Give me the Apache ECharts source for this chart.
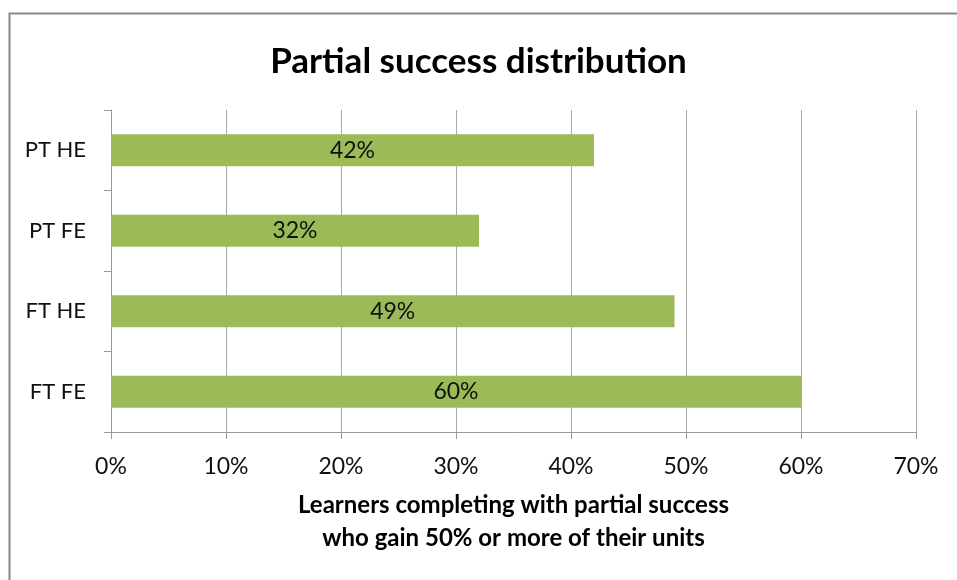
<!DOCTYPE html>
<html><head><meta charset="utf-8">
<script src="https://cdn.jsdelivr.net/npm/echarts@6/dist/echarts.min.js"></script>
<style>html,body{margin:0;padding:0;background:#fff}#c{width:957px;height:580px}</style>
</head><body><div id="c"></div>
<script>
var categories = ['FT FE', 'FT HE', 'PT FE', 'PT HE'];
var values = [60, 49, 32, 42];
var xTicks = [0, 10, 20, 30, 40, 50, 60, 70];
var title = 'Partial success distribution';
var xName = 'Learners completing with partial success\nwho gain 50% or more of their units';

var font = 'Lato, "Open Sans", sans-serif';
var chart = echarts.init(document.getElementById('c'));
chart.setOption({
  animation: false,
  graphic: [{type: 'rect', left: 7, top: 11, shape: {width: 1000, height: 700}, style: {fill: 'none', stroke: '#888', lineWidth: 2}, z: -1}],
  title: {text: title, left: 'center', top: 39, textStyle: {fontFamily: font, fontSize: 35, fontWeight: 'bold', color: '#000'}},
  grid: {left: 111, right: 41, top: 110, bottom: 148},
  xAxis: {
    type: 'value', min: xTicks[0], max: xTicks[xTicks.length - 1], interval: 10,
    name: xName, nameLocation: 'middle', nameGap: 57,
    nameTextStyle: {fontFamily: font, fontSize: 24, fontWeight: 'bold', color: '#000', lineHeight: 33},
    axisLine: {show: true, lineStyle: {color: '#999', width: 1}},
    axisTick: {show: true, length: 7, lineStyle: {color: '#999'}},
    axisLabel: {formatter: '{value}%', fontFamily: font, fontSize: 23, color: '#111', margin: 23},
    splitLine: {show: true, lineStyle: {color: '#aaa', width: 1}}
  },
  yAxis: {
    type: 'category', data: categories,
    axisLine: {show: true, lineStyle: {color: '#999'}},
    axisTick: {show: true, length: 7, lineStyle: {color: '#999'}},
    axisLabel: {fontFamily: font, fontSize: 22, color: '#111', margin: 25}
  },
  series: [{
    type: 'bar', data: values, barCategoryGap: '60%',
    itemStyle: {color: '#9BBB59'},
    label: {show: true, position: 'inside', formatter: '{c}%', fontFamily: font, fontSize: 23, color: '#111'}
  }]
});
</script></body></html>
